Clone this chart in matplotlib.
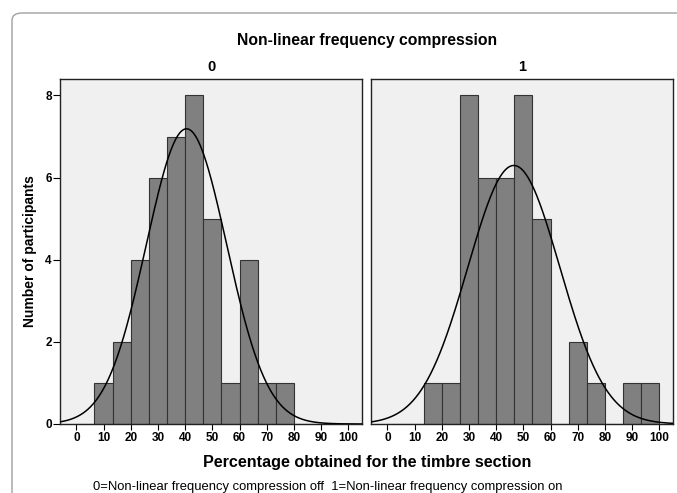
import numpy as np
import matplotlib
matplotlib.use("Agg")
import matplotlib.pyplot as plt
from matplotlib.patches import FancyBboxPatch

plt.rcParams['font.family'] = ['Liberation Sans', 'DejaVu Sans']

# ---- data ----
bin_width = 20 / 3
bin_starts = [0, 6.667, 13.333, 20, 26.667, 33.333, 40, 46.667, 53.333,
              60, 66.667, 73.333, 80, 86.667, 93.333]
counts_off = [0, 1, 2, 4, 6, 7, 8, 5, 1, 4, 1, 1, 0, 0, 0]
counts_on = [0, 0, 1, 1, 8, 6, 6, 8, 5, 0, 2, 1, 0, 1, 1]
panel_labels = ["0", "1"]
means = [40.5, 46.5]
sds = [14.8, 16.9]
xticks = [0, 10, 20, 30, 40, 50, 60, 70, 80, 90, 100]
yticks = [0, 2, 4, 6, 8]

W, H = 677, 493
fig = plt.figure(figsize=(W / 100, H / 100), dpi=100)

# outer rounded frame
frame = FancyBboxPatch((12 / W, -0.2), 1.2, 1 - 13 / H + 0.2,
                       boxstyle="round,pad=0,rounding_size=0.015",
                       transform=fig.transFigure, fill=False,
                       edgecolor="#a0a0a0", linewidth=1.0)
fig.patches.append(frame)

ax_bottom = (H - 424) / H
ax_h = (424 - 79) / H
lefts = [60 / W, 371 / W]
ax_w = 302 / W

xs = np.linspace(-6, 105, 400)
for i, counts in enumerate([counts_off, counts_on]):
    ax = fig.add_axes([lefts[i], ax_bottom, ax_w, ax_h])
    ax.set_facecolor("#f0f0f0")
    ax.bar(bin_starts, counts, width=bin_width, align="edge",
           color="#808080", edgecolor="#333333", linewidth=0.8, zorder=2)
    n = sum(counts)
    y = n * bin_width / (sds[i] * np.sqrt(2 * np.pi)) * \
        np.exp(-(xs - means[i]) ** 2 / (2 * sds[i] ** 2))
    ax.plot(xs, y, color="black", linewidth=1.1, zorder=3)
    ax.set_xlim(-6, 105)
    ax.set_ylim(0, 8.4)
    ax.set_xticks(xticks)
    ax.set_xticklabels([str(t) for t in xticks], fontsize=8.5, fontweight="bold")
    ax.tick_params(axis="x", length=4, width=0.8, pad=2)
    if i == 0:
        ax.set_yticks(yticks)
        ax.set_yticklabels([str(t) for t in yticks], fontsize=8.5, fontweight="bold")
        ax.tick_params(axis="y", length=5, width=0.8, pad=1)
    else:
        ax.set_yticks([])
    for s in ax.spines.values():
        s.set_color("#222222")
        s.set_linewidth(1.0)
    fig.text(lefts[i] + ax_w / 2, 1 - 67 / H, panel_labels[i],
             ha="center", va="center", fontsize=10.5, fontweight="bold")

fig.text(367 / W, 1 - 40 / H, "Non-linear frequency compression",
         ha="center", va="center", fontsize=11.3, fontweight="bold")
fig.text(30 / W, 1 - 251 / H, "Number of participants", rotation=90,
         ha="center", va="center", fontsize=10, fontweight="bold")
fig.text(367 / W, 1 - 463 / H, "Percentage obtained for the timbre section",
         ha="center", va="center", fontsize=11.6, fontweight="bold")
fig.text(328 / W, 1 - 487 / H,
         "0=Non-linear frequency compression off  1=Non-linear frequency compression on",
         ha="center", va="center", fontsize=9.4)

fig.savefig("out.png", dpi=100)
